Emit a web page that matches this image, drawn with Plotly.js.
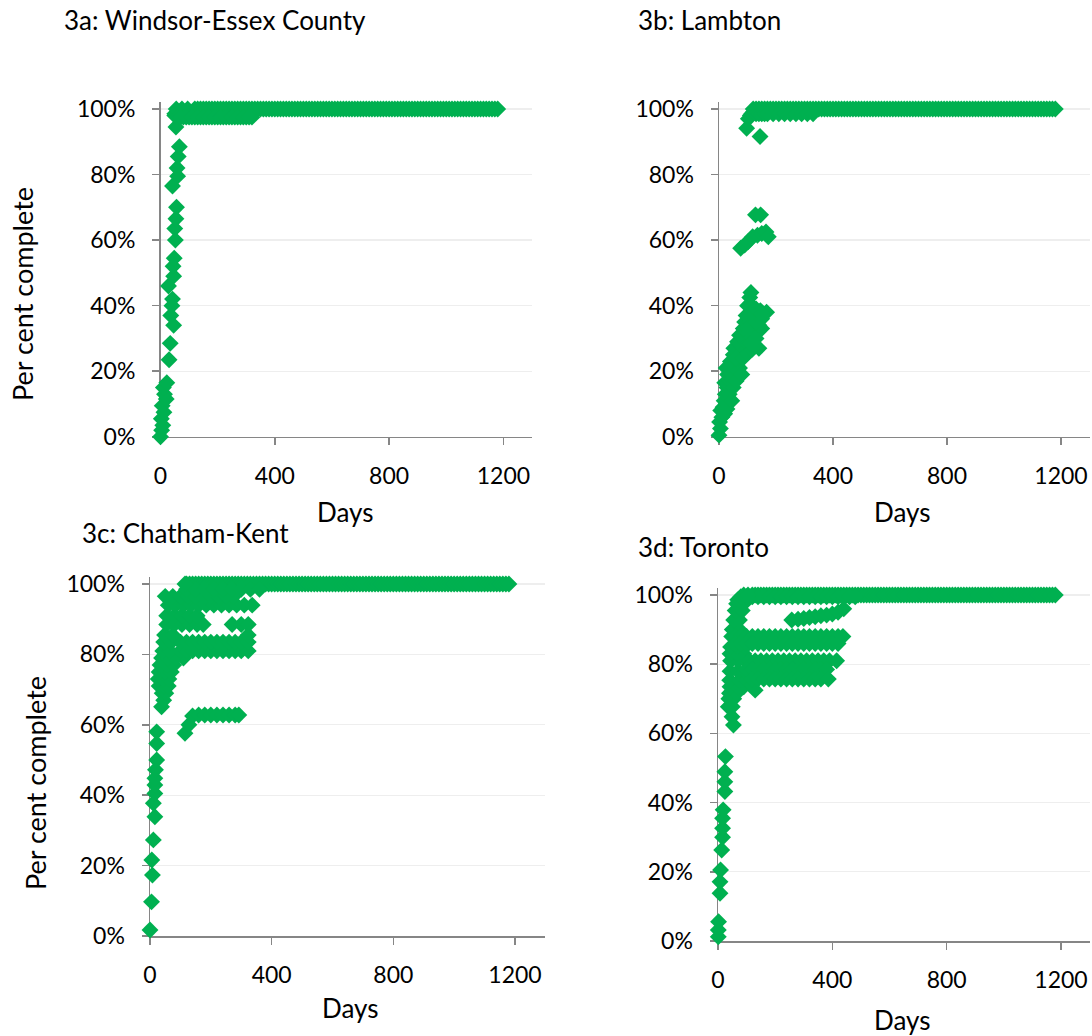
<!DOCTYPE html>
<html>
<head>
<meta charset="utf-8">
<script src="https://cdn.plot.ly/plotly-3.0.1.min.js"></script>
<style>html,body{margin:0;padding:0;background:#fff;}#chart{width:1092px;height:1036px;}</style>
</head>
<body>
<div id="chart"></div>
<script>
// ---------- DATA ----------
const panelTitles = ['3a: Windsor-Essex County', '3b: Lambton', '3c: Chatham-Kent', '3d: Toronto'];
const xTickVals = [0, 400, 800, 1200];
const xTickText = ['0', '400', '800', '1200'];
const yTickVals = [0, 0.2, 0.4, 0.6, 0.8, 1];
const yTickText = ['0%', '20%', '40%', '60%', '80%', '100%'];
const yTitle = 'Per cent complete';
const xTitle = 'Days';

// long tail at 100 % shared by all four regions
const plateauDays = [
  120,130,140,150,160,170,180,190,200,210,
  220,230,240,250,260,270,280,290,300,310,
  320,330,340,350,360,370,380,390,400,410,
  420,430,440,450,460,470,480,490,500,510,
  520,530,540,550,560,570,580,590,600,610,
  620,630,640,650,660,670,680,690,700,710,
  720,730,740,750,760,770,780,790,800,810,
  820,830,840,850,860,870,880,890,900,910,
  920,930,940,950,960,970,980,990,1000,1010,
  1020,1030,1040,1050,1060,1070,1080,1090,1100,1110,
  1120,1130,1140,1150,1160,1170,1180];
const plateauPct = [
  1,1,1,1,1,1,1,1,1,1,
  1,1,1,1,1,1,1,1,1,1,
  1,1,1,1,1,1,1,1,1,1,
  1,1,1,1,1,1,1,1,1,1,
  1,1,1,1,1,1,1,1,1,1,
  1,1,1,1,1,1,1,1,1,1,
  1,1,1,1,1,1,1,1,1,1,
  1,1,1,1,1,1,1,1,1,1,
  1,1,1,1,1,1,1,1,1,1,
  1,1,1,1,1,1,1,1,1,1,
  1,1,1,1,1,1,1];

// 3a Windsor-Essex County
const windsorDays = [
  0,4,8,3,12,6,20,14,10,22,
  30,34,46,36,40,42,28,46,44,48,
  52,50,54,56,42,60,58,62,66,54,50,
  50,70,90,
  55,75,95,
  60,80,100,120,140,160,180,200,220,240,260,280,300,320,
  70,90,110,130,150,170,190,210,230,250,270,290,310];
const windsorPct = [
  0,0.02,0.035,0.055,0.075,0.095,0.115,0.13,0.15,0.165,
  0.235,0.285,0.34,0.37,0.40,0.42,0.46,0.49,0.52,0.545,
  0.60,0.635,0.665,0.70,0.765,0.795,0.82,0.855,0.885,0.945,0.98,
  0.985,0.985,0.985,
  1,1,1,
  0.975,0.975,0.975,0.975,0.975,0.975,0.975,0.975,0.975,0.975,0.975,0.975,0.975,0.975,
  0.975,0.975,0.975,0.975,0.975,0.975,0.975,0.975,0.975,0.975,0.975,0.975,0.975];

// 3b Lambton
const lambtonDays = [
  0,5,2,10,6,14,18,22,36,28,
  20,38,30,45,25,55,72,40,62,50,
  70,52,80,140,65,95,72,105,85,120,
  150,90,110,95,125,167,145,100,115,108,112,
  20,28,30,45,50,60,80,60,85,100,
  115,125,110,130,100,140,130,150,115,130,150,
  76,90,102,118,135,150,165,173,128,146,
  97,144,103,110,115,120,
  130,140,150,160,170,190,210,230,250,270,290,310,330];
const lambtonPct = [
  0.005,0.025,0.045,0.06,0.08,0.09,0.11,0.13,0.13,0.15,
  0.165,0.17,0.19,0.19,0.21,0.21,0.21,0.23,0.235,0.25,
  0.255,0.27,0.275,0.27,0.29,0.29,0.31,0.31,0.33,0.325,
  0.33,0.35,0.35,0.37,0.365,0.38,0.385,0.40,0.40,0.425,0.44,
  0.07,0.085,0.10,0.11,0.15,0.17,0.19,0.24,0.24,0.255,
  0.265,0.28,0.285,0.30,0.33,0.34,0.35,0.36,0.38,0.39,0.375,
  0.575,0.585,0.595,0.61,0.615,0.62,0.625,0.61,0.677,0.677,
  0.941,0.916,0.97,0.98,0.985,0.99,
  0.985,0.985,0.985,0.985,0.985,0.985,0.985,0.985,0.985,0.985,0.985,0.985,0.985];

// 3c Chatham-Kent
const chathamDays = [
  0,5,8,6,11,16,11,16,16,16,18,22,22,22,
  115,128,140,160,180,200,220,240,260,280,292,
  38,45,40,52,30,45,60,27,42,62,30,50,70,33,55,78,38,60,85,110,
  42,65,100,120,140,160,180,200,220,240,260,280,300,323,
  45,70,100,120,140,160,180,200,220,240,260,280,300,323,
  48,75,323,
  55,80,105,130,155,175,270,300,323,
  55,80,105,130,155,
  60,85,110,135,160,185,210,235,260,285,310,336,
  50,75,100,125,150,175,200,225,250,275,
  120,150,180,210,240,270,300,330,360,
  115];
const chathamPct = [
  0.017,0.097,0.173,0.216,0.273,0.339,0.377,0.405,0.429,0.448,0.472,0.50,0.547,0.58,
  0.576,0.60,0.625,0.628,0.628,0.628,0.628,0.628,0.628,0.628,0.628,
  0.651,0.67,0.69,0.69,0.71,0.71,0.71,0.73,0.73,0.73,0.75,0.75,0.75,0.77,0.77,0.77,0.79,0.79,0.79,0.79,
  0.81,0.81,0.81,0.81,0.81,0.81,0.81,0.81,0.81,0.81,0.81,0.81,0.81,0.81,
  0.835,0.835,0.835,0.835,0.835,0.835,0.835,0.835,0.835,0.835,0.835,0.835,0.835,0.835,
  0.855,0.855,0.855,
  0.885,0.885,0.885,0.885,0.885,0.885,0.885,0.885,0.885,
  0.91,0.91,0.91,0.91,0.91,
  0.94,0.94,0.94,0.94,0.94,0.94,0.94,0.94,0.94,0.94,0.94,0.94,
  0.965,0.965,0.965,0.965,0.965,0.965,0.965,0.965,0.965,0.965,
  0.985,0.985,0.985,0.985,0.985,0.985,0.985,0.985,0.985,
  1];

// 3d Toronto
const torontoDays = [
  1,1,2,7,7,9,13,16,16,16,18,24,24,24,26,
  54,49,36,50,38,55,40,65,42,70,90,41,75,100,42,70,95,44,70,95,42,65,90,44,68,95,48,50,75,55,75,60,85,65,90,69,118,130,
  60,80,100,120,140,160,180,200,220,240,260,280,300,320,340,360,380,400,420,437,
  60,80,100,120,140,160,180,200,220,240,260,280,300,320,340,360,380,400,420,
  110,130,150,170,190,210,230,250,270,290,310,330,350,370,390,415,
  100,120,140,160,180,200,220,240,260,280,300,320,340,360,380,
  120,140,160,180,200,220,240,260,280,300,320,340,360,386,
  258,280,300,320,340,360,380,400,420,440,
  80,100,120,140,160,180,200,220,240,260,280,300,320,340,360,380,400,420,440,460,480,
  90,105];
const torontoPct = [
  0.012,0.032,0.056,0.138,0.171,0.205,0.263,0.30,0.326,0.355,0.379,0.432,0.46,0.489,0.533,
  0.624,0.648,0.677,0.677,0.70,0.70,0.716,0.716,0.735,0.735,0.735,0.754,0.754,0.754,0.78,0.78,0.78,0.81,0.81,0.81,0.83,0.83,0.83,0.85,0.85,0.85,0.88,0.90,0.90,0.928,0.928,0.955,0.955,0.975,0.975,0.986,0.74,0.725,
  0.88,0.88,0.88,0.88,0.88,0.88,0.88,0.88,0.88,0.88,0.88,0.88,0.88,0.88,0.88,0.88,0.88,0.88,0.88,0.88,
  0.86,0.86,0.86,0.86,0.86,0.86,0.86,0.86,0.86,0.86,0.86,0.86,0.86,0.86,0.86,0.86,0.86,0.86,0.86,
  0.81,0.81,0.81,0.81,0.81,0.81,0.81,0.81,0.81,0.81,0.81,0.81,0.81,0.81,0.81,0.81,
  0.785,0.785,0.785,0.785,0.785,0.785,0.785,0.785,0.785,0.785,0.785,0.785,0.785,0.785,0.785,
  0.757,0.757,0.757,0.757,0.757,0.757,0.757,0.757,0.757,0.757,0.757,0.757,0.757,0.757,
  0.928,0.93,0.932,0.935,0.937,0.94,0.942,0.945,0.95,0.96,
  0.995,0.995,0.995,0.995,0.995,0.995,0.995,0.995,0.995,0.995,0.995,0.995,0.995,0.995,0.995,0.995,0.995,0.995,0.995,0.995,0.995,
  1,1];

// ---------- CHART ----------
const W = 1092, H = 1036;
const FONT = 'Lato, "Open Sans", sans-serif';
const GREEN = '#00B050';
const AXIS = '#868686';

function mk(days, pct, xa, ya) {
  return {
    type: 'scatter', mode: 'markers',
    x: plateauDays.concat(days), y: plateauPct.concat(pct),
    xaxis: xa, yaxis: ya, cliponaxis: false, hoverinfo: 'skip', showlegend: false,
    marker: { symbol: 'diamond', size: 13, color: GREEN, line: { width: 0 } }
  };
}
const px = v => v / W;
const py = v => 1 - v / H;

function xax(l, r, anchor) {
  return {
    domain: [px(l), px(r)], anchor: anchor, range: [0, 1300],
    tickmode: 'array', tickvals: xTickVals, ticktext: xTickText,
    ticks: 'outside', ticklen: 7, tickwidth: 1.5, tickcolor: AXIS, ticklabelstandoff: 11,
    showline: true, linecolor: AXIS, linewidth: 1.5, showgrid: false, zeroline: false,
    layer: 'below traces', fixedrange: true,
    tickfont: { family: FONT, size: 23, color: '#000' }
  };
}
function yax(top, bottom, anchor) {
  return {
    domain: [py(bottom), py(top)], anchor: anchor, range: [0, 1.02],
    tickmode: 'array', tickvals: yTickVals, ticktext: yTickText,
    ticks: 'outside', ticklen: 7, tickwidth: 1.5, tickcolor: AXIS, ticklabelstandoff: 12,
    showline: true, linecolor: AXIS, linewidth: 1.5,
    showgrid: true, gridcolor: '#EEEEEE', gridwidth: 1.2, zeroline: false,
    layer: 'below traces', fixedrange: true,
    tickfont: { family: FONT, size: 23, color: '#000' }
  };
}

const data = [
  mk(windsorDays, windsorPct, 'x', 'y'),
  mk(lambtonDays, lambtonPct, 'x2', 'y2'),
  mk(chathamDays, chathamPct, 'x3', 'y3'),
  mk(torontoDays, torontoPct, 'x4', 'y4')
];

function note(text, x, y, size, opts) {
  return Object.assign({
    text: text, xref: 'paper', yref: 'paper', x: px(x), y: py(y),
    xanchor: 'center', yanchor: 'middle', showarrow: false,
    font: { family: FONT, size: size, color: '#000' }
  }, opts || {});
}

const layout = {
  width: W, height: H, margin: { l: 0, r: 0, t: 0, b: 0 },
  paper_bgcolor: '#fff', plot_bgcolor: 'rgba(0,0,0,0)', showlegend: false,
  xaxis: xax(160.5, 532, 'y'),   yaxis: yax(102.4, 436.8, 'x'),
  xaxis2: xax(719, 1089.5, 'y2'), yaxis2: yax(102.4, 436.8, 'x2'),
  xaxis3: xax(150, 545.4, 'y3'), yaxis3: yax(577, 936, 'x3'),
  xaxis4: xax(718, 1089.6, 'y4'), yaxis4: yax(588.1, 941, 'x4'),
  annotations: [
    note(panelTitles[0], 62, 20, 26, { xanchor: 'left' }),
    note(panelTitles[1], 636, 20, 26, { xanchor: 'left' }),
    note(panelTitles[2], 80, 533, 26, { xanchor: 'left' }),
    note(panelTitles[3], 636, 547, 26, { xanchor: 'left' }),
    note(yTitle, 22, 294, 27, { textangle: -90 }),
    note(yTitle, 35, 783, 27, { textangle: -90 }),
    note(xTitle, 345, 512, 26),
    note(xTitle, 902, 512, 26),
    note(xTitle, 350, 1008, 26),
    note(xTitle, 902, 1020, 26)
  ]
};

Plotly.newPlot('chart', data, layout, { staticPlot: true, displayModeBar: false });
</script>
</body>
</html>
